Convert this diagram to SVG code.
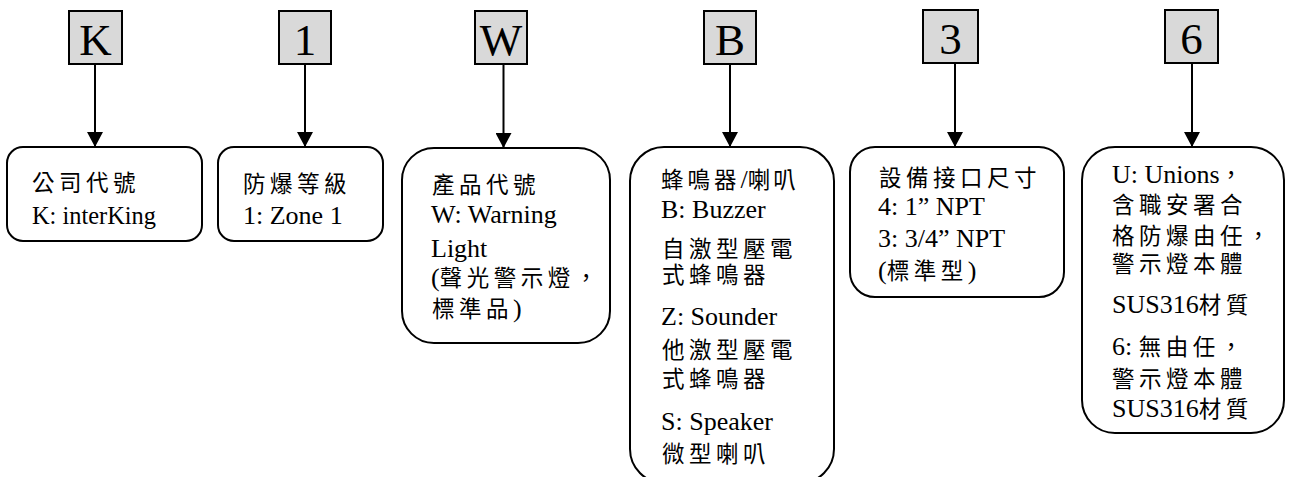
<svg xmlns="http://www.w3.org/2000/svg" width="1290" height="477" viewBox="0 0 1290 477">
<style>
.code{fill:#d9d9d9;stroke:#000;stroke-width:2}
.codet{font-family:'Liberation Serif','Times New Roman',serif;font-size:45px;fill:#000;text-anchor:middle}
.desc{fill:#fff;stroke:#000;stroke-width:2}
.t{font-family:'Liberation Serif','Noto Sans CJK TC',serif;font-size:26px;fill:#000}
.c{font-family:'Noto Sans CJK TC','Noto Sans CJK JP',sans-serif;font-size:22.5px;letter-spacing:4.5px}
.conn line{stroke:#000;stroke-width:2}
</style>
<defs>
<marker id="ah" markerWidth="16" markerHeight="16" refX="15" refY="8" orient="auto" markerUnits="userSpaceOnUse">
<path d="M0,0 L15,8 L0,16 Z" fill="#000"/>
</marker>
</defs>
<rect width="1290" height="477" fill="#fff"/>

<g id="code-K"><rect class="code" x="69" y="11" width="53" height="53"/><text class="codet" x="95.5" y="55">K</text></g>
<g id="code-1"><rect class="code" x="279" y="11" width="52" height="53"/><text class="codet" x="305" y="55">1</text></g>
<g id="code-W"><rect class="code" x="475" y="11" width="52" height="53"/><text class="codet" x="501" y="55">W</text></g>
<g id="code-B"><rect class="code" x="704" y="11" width="52" height="53"/><text class="codet" x="730" y="55">B</text></g>
<g id="code-3"><rect class="code" x="923" y="10" width="55" height="53"/><text class="codet" x="950.5" y="54">3</text></g>
<g id="code-6"><rect class="code" x="1165" y="10" width="53" height="53"/><text class="codet" x="1191.5" y="54">6</text></g>

<g class="conn" id="connectors">
<line x1="95" y1="64" x2="95" y2="147" marker-end="url(#ah)"/>
<line x1="305" y1="64" x2="305" y2="147" marker-end="url(#ah)"/>
<line x1="503.5" y1="64" x2="503.5" y2="148" marker-end="url(#ah)"/>
<line x1="730" y1="64" x2="730" y2="147" marker-end="url(#ah)"/>
<line x1="955" y1="63" x2="955" y2="147" marker-end="url(#ah)"/>
<line x1="1192" y1="63" x2="1192" y2="147" marker-end="url(#ah)"/>
</g>

<g id="desc-K">
<rect class="desc" x="7" y="147" width="195" height="94" rx="16"/>
<text class="t" x="32" y="191"><tspan class="c">公司代號</tspan></text>
<text class="t" x="32" y="224" textLength="124" lengthAdjust="spacingAndGlyphs">K: interKing</text>
</g>

<g id="desc-1">
<rect class="desc" x="218" y="147" width="165" height="94" rx="16"/>
<text class="t" x="243" y="192"><tspan class="c">防爆等級</tspan></text>
<text class="t" x="243" y="224">1: Zone 1</text>
</g>

<g id="desc-W">
<rect class="desc" x="402" y="148" width="208" height="195" rx="32"/>
<text class="t" x="432" y="193"><tspan class="c">產品代號</tspan></text>
<text class="t" x="431" y="223">W: Warning</text>
<text class="t" x="431" y="257">Light</text>
<text class="t" x="431" y="286">(<tspan class="c">聲光警示燈，</tspan></text>
<text class="t" x="432" y="317"><tspan class="c">標準品</tspan>)</text>
</g>

<g id="desc-B">
<rect class="desc" x="630" y="147" width="204" height="336" rx="34"/>
<text class="t" x="661" y="188"><tspan class="c" style="letter-spacing:4px">蜂鳴器</tspan>/<tspan class="c" style="letter-spacing:3px">喇叭</tspan></text>
<text class="t" x="661" y="218">B: Buzzer</text>
<text class="t" x="662" y="257"><tspan class="c">自激型壓電</tspan></text>
<text class="t" x="662" y="283"><tspan class="c">式蜂鳴器</tspan></text>
<text class="t" x="661" y="325">Z: Sounder</text>
<text class="t" x="662" y="358"><tspan class="c">他激型壓電</tspan></text>
<text class="t" x="662" y="387"><tspan class="c">式蜂鳴器</tspan></text>
<text class="t" x="661" y="430">S: Speaker</text>
<text class="t" x="662" y="462"><tspan class="c">微型喇叭</tspan></text>
</g>

<g id="desc-3">
<rect class="desc" x="850" y="147" width="214" height="150" rx="25"/>
<text class="t" x="879" y="186"><tspan class="c">設備接口尺寸</tspan></text>
<text class="t" x="878" y="215">4: 1” NPT</text>
<text class="t" x="878" y="247">3: 3/4” NPT</text>
<text class="t" x="878" y="279">(<tspan class="c">標準型</tspan>)</text>
</g>

<g id="desc-6">
<rect class="desc" x="1082" y="147" width="202" height="286" rx="33"/>
<text class="t" x="1112" y="183">U: Unions<tspan class="c">，</tspan></text>
<text class="t" x="1112" y="213"><tspan class="c">含職安署合</tspan></text>
<text class="t" x="1112" y="244"><tspan class="c">格防爆由任，</tspan></text>
<text class="t" x="1112" y="272"><tspan class="c">警示燈本體</tspan></text>
<text class="t" x="1112" y="313">SUS316<tspan class="c">材質</tspan></text>
<text class="t" x="1112" y="355">6: <tspan class="c">無由任，</tspan></text>
<text class="t" x="1112" y="387"><tspan class="c">警示燈本體</tspan></text>
<text class="t" x="1112" y="417">SUS316<tspan class="c">材質</tspan></text>
</g>
</svg>
